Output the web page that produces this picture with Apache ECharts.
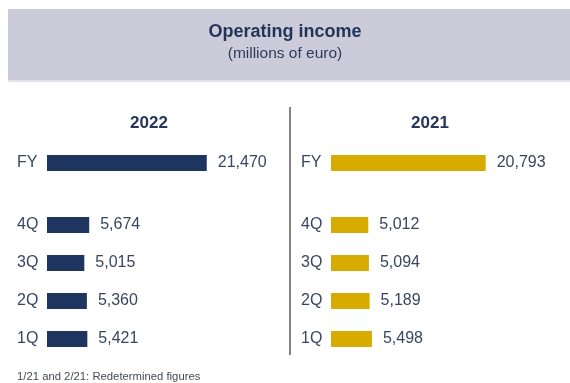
<!DOCTYPE html>
<html>
<head>
<meta charset="utf-8">
<script src="https://cdn.jsdelivr.net/npm/echarts@6/dist/echarts.min.js"></script>
<style>
  html, body { margin: 0; padding: 0; background: #ffffff; }
  #chart { width: 570px; height: 383px; }
</style>
</head>
<body>
<div id="chart"></div>
<script>
// Operating income, millions of euro
const yearLabels = ['2022', '2021'];
const fyCategory = ['FY'];
const quarterCategories = ['4Q', '3Q', '2Q', '1Q'];
const fy2022 = [21470];
const quarters2022 = [5674, 5015, 5360, 5421];
const fy2021 = [20793];
const quarters2021 = [5012, 5094, 5189, 5498];

const FONT = "'Liberation Sans', Arial, sans-serif";
const TEXT = '#3a4661';
const NAVY = '#1d355f';
const GOLD = '#d8ab00';
const X_MAX = 25000;

const chart = echarts.init(document.getElementById('chart'), null, { renderer: 'canvas' });

const fmt = v => Number(v).toLocaleString('en-US');

// left column starts at 47px, right column at 331px; both share one value scale
const grids = [
  { left: 47,  top: 155, width: 186, height: 16 },
  { left: 47,  top: 206, width: 186, height: 152 },
  { left: 331, top: 155, width: 186, height: 16 },
  { left: 331, top: 206, width: 186, height: 152 }
];

const xAxes = grids.map((g, i) => ({
  type: 'value', gridIndex: i, min: 0, max: X_MAX, show: false
}));

const yAxes = grids.map((g, i) => ({
  type: 'category',
  gridIndex: i,
  inverse: true,
  data: i % 2 === 0 ? fyCategory : quarterCategories,
  axisLine: { show: false },
  axisTick: { show: false },
  splitLine: { show: false },
  axisLabel: {
    margin: 30, align: 'left',
    fontFamily: FONT, fontSize: 16, color: TEXT
  }
}));

function barSeries(idx, data, color) {
  return {
    type: 'bar',
    xAxisIndex: idx,
    yAxisIndex: idx,
    data: data,
    barWidth: 16,
    itemStyle: { color: color },
    label: {
      show: true,
      position: 'right',
      distance: 11,
      fontFamily: FONT,
      fontSize: 16,
      color: TEXT,
      formatter: p => fmt(p.value)
    },
    animation: false
  };
}

chart.setOption({
  backgroundColor: '#ffffff',
  graphic: [
    { type: 'rect', shape: { x: 8, y: 9, width: 562, height: 71 }, style: { fill: '#cccbd9' }, z: -1 },
    { type: 'rect', shape: { x: 8, y: 80, width: 562, height: 2 }, style: { fill: '#e4e3ec' }, z: -1 },
    { type: 'line', shape: { x1: 290, y1: 107, x2: 290, y2: 355 }, style: { stroke: '#5a5a5a', lineWidth: 1.5 } }
  ],
  title: [
    {
      text: 'Operating income', left: 'center', top: 23, padding: 0,
      textStyle: { fontFamily: FONT, fontSize: 18, fontWeight: 'bold', color: '#24355a' }
    },
    {
      text: '(millions of euro)', left: 'center', top: 46, padding: 0,
      textStyle: { fontFamily: FONT, fontSize: 15.5, fontWeight: 'normal', color: '#2e3b5c' }
    },
    {
      text: yearLabels[0], left: 149, top: 115, padding: 0, textAlign: 'center',
      textStyle: { fontFamily: FONT, fontSize: 17, fontWeight: 'bold', color: '#24355a' }
    },
    {
      text: yearLabels[1], left: 430, top: 115, padding: 0, textAlign: 'center',
      textStyle: { fontFamily: FONT, fontSize: 17, fontWeight: 'bold', color: '#24355a' }
    },
    {
      text: '1/21 and 2/21: Redetermined figures', left: 17, top: 371, padding: 0,
      textStyle: { fontFamily: FONT, fontSize: 11.3, fontWeight: 'normal', color: '#444a55' }
    }
  ],
  grid: grids,
  xAxis: xAxes,
  yAxis: yAxes,
  series: [
    barSeries(0, fy2022, NAVY),
    barSeries(1, quarters2022, NAVY),
    barSeries(2, fy2021, GOLD),
    barSeries(3, quarters2021, GOLD)
  ]
});
</script>
</body>
</html>
